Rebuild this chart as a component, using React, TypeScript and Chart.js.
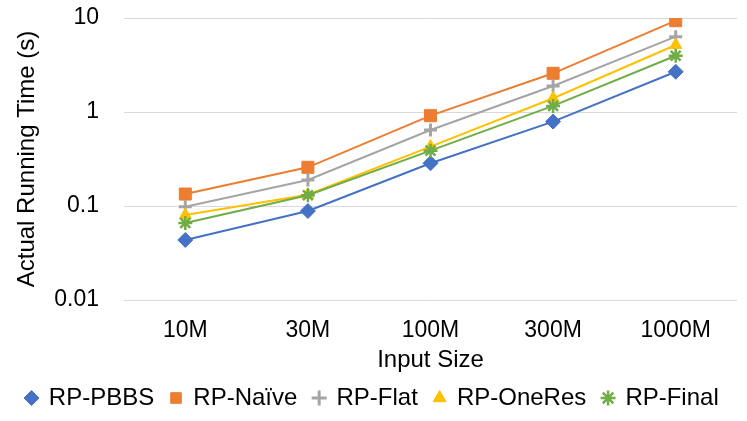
import React, { useEffect, useRef } from "react";
import { Chart, registerables } from "chart.js";

Chart.register(...registerables);

const categories = ["10M", "30M", "100M", "300M", "1000M"];
const seriesNames = ["RP-PBBS", "RP-Naïve", "RP-Flat", "RP-OneRes", "RP-Final"];
const pbbs = [0.0435, 0.0885, 0.285, 0.79, 2.68];
const naive = [0.134, 0.258, 0.914, 2.58, 9.36];
const flat = [0.098, 0.189, 0.644, 1.89, 6.33];
const oneRes = [0.08, 0.132, 0.428, 1.4, 5.16];
const final = [0.066, 0.13, 0.388, 1.16, 3.97];
const yTickValues = [0.01, 0.1, 1, 10];
const yTickLabels = ["0.01", "0.1", "1", "10"];

const colors = ["#4472C4", "#ED7D31", "#A5A5A5", "#FFC000", "#70AD47"];
const styles = ["rectRot", "rect", "cross", "triangle", "star"];
const radii = [7.5, 8.5, 6.5, 7, 7];
const markerBorder = [1, 1, 3, 1, 2.5];

export default function App() {
  const ref = useRef<HTMLCanvasElement | null>(null);
  useEffect(() => {
    document.body.style.margin = "0";
    const values = [pbbs, naive, flat, oneRes, final];
    const chart = new Chart(ref.current as HTMLCanvasElement, {
      type: "line",
      data: {
        labels: categories,
        datasets: values.map((v, i) => ({
          label: seriesNames[i],
          data: v,
          borderColor: colors[i],
          backgroundColor: colors[i],
          borderWidth: 2,
          pointStyle: styles[i] as any,
          pointRadius: radii[i],
          pointHoverRadius: radii[i],
          pointBorderWidth: markerBorder[i],
          pointBackgroundColor: colors[i],
          pointBorderColor: colors[i],
          order: values.length - 1 - i,
          tension: 0,
        })),
      },
      options: {
        animation: false,
        responsive: true,
        maintainAspectRatio: false,
        layout: { padding: { left: 8, right: 10, top: 18, bottom: 1 } },
        plugins: {
          tooltip: { enabled: false },
          legend: {
            position: "bottom",
            labels: {
              usePointStyle: true,
              boxHeight: 10.6,
              boxWidth: 10.6,
              padding: 16.5,
              color: "#000000",
              font: { family: "'Liberation Sans', Arial, sans-serif", size: 24 },
              sort: (a: any, b: any) => a.datasetIndex - b.datasetIndex,
            },
          },
        },
        scales: {
          x: {
            type: "category",
            offset: true,
            grid: { display: false, drawTicks: false },
            border: { display: false },
            ticks: {
              padding: 17,
              color: "#000000",
              font: { family: "'Liberation Sans', Arial, sans-serif", size: 23 },
              maxRotation: 0,
            },
            title: {
              display: true,
              text: "Input Size",
              color: "#000000",
              font: { family: "'Liberation Sans', Arial, sans-serif", size: 24 },
              padding: { top: 0, bottom: -5.5 },
            },
            afterFit: (s: any) => {
              s.height = 69.5;
            },
          },
          y: {
            type: "logarithmic",
            min: 0.01,
            max: 10,
            grid: {
              color: "#D9D9D9",
              lineWidth: 1,
              drawTicks: true,
              tickLength: 22,
              tickColor: "rgba(0,0,0,0)",
            },
            border: { display: false },
            afterBuildTicks: (s: any) => {
              s.ticks = yTickValues.map((v) => ({ value: v }));
            },
            ticks: {
              padding: 3,
              color: "#000000",
              font: { family: "'Liberation Sans', Arial, sans-serif", size: 23 },
              callback: (v: any) => {
                const idx = yTickValues.findIndex((t) => Math.abs(t - Number(v)) < 1e-9);
                return idx >= 0 ? yTickLabels[idx] : "";
              },
            },
            title: {
              display: true,
              text: "Actual Running Time (s)",
              color: "#000000",
              font: { family: "'Liberation Sans', Arial, sans-serif", size: 24 },
              padding: { top: 4.6, bottom: 0 },
            },
            afterFit: (s: any) => {
              s.width = 116;
            },
          },
        },
      },
    });
    return () => chart.destroy();
  }, []);
  return (
    <div style={{ position: "fixed", left: 0, top: 0, width: 747, height: 421 }}>
      <canvas ref={ref} />
    </div>
  );
}
